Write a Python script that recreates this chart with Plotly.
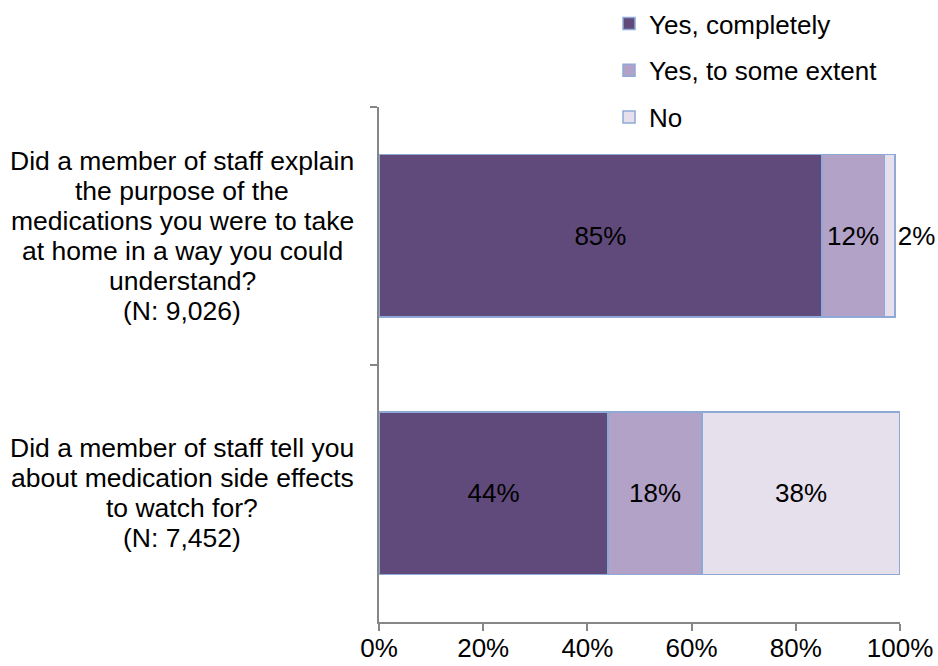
import plotly.graph_objects as go

# Survey questions (one list of text lines per question, top to bottom)
question_keys = ["q_explain", "q_side_effects"]
question_lines = [
    ["Did a member of staff explain",
     "the purpose of the",
     "medications you were to take",
     "at home in a way you could",
     "understand?",
     "(N: 9,026)"],
    ["Did a member of staff tell you",
     "about medication side effects",
     "to watch for?",
     "(N: 7,452)"],
]

# Response shares (%) per question
series_names = ["Yes, completely", "Yes, to some extent", "No"]
yes_completely = [85, 44]
yes_some_extent = [12, 18]
no_answer = [2, 38]

x_tick_values = [0, 20, 40, 60, 80, 100]
x_tick_labels = ["0%", "20%", "40%", "60%", "80%", "100%"]

colors = ["#604A7B", "#B3A2C7", "#E6E0EC"]
edge = "#8EA9D6"
font_family = "Arial, Liberation Sans, sans-serif"
fs = 26

fig = go.Figure()
series = [yes_completely, yes_some_extent, no_answer]
for i, (name, vals, col) in enumerate(zip(series_names, series, colors)):
    if i == 2:
        positions = ["outside" if v < 5 else "inside" for v in vals]
    else:
        positions = ["inside"] * len(vals)
    fig.add_trace(go.Bar(
        name=name,
        y=question_keys,
        x=vals,
        orientation="h",
        width=0.63,
        marker=dict(color=col, line=dict(color=edge, width=1.5)),
        text=[f"{v}%" for v in vals],
        textposition=positions,
        insidetextanchor="middle",
        textfont=dict(family=font_family, size=fs, color="black"),
        insidetextfont=dict(family=font_family, size=fs, color="black"),
        outsidetextfont=dict(family=font_family, size=fs, color="black"),
        constraintext="none",
        cliponaxis=False,
        legendgroup=name,
        hoverinfo="skip",
    ))

# Multi-line category labels, centred, with tight line spacing
line_gap = 30
annotations = []
for key, lines in zip(question_keys, question_lines):
    n = len(lines)
    for j, line in enumerate(lines):
        annotations.append(dict(
            x=-0.378, xref="paper", y=key, yref="y",
            text=line, showarrow=False,
            xanchor="center", yanchor="middle",
            yshift=((n - 1) / 2 - j) * line_gap,
            font=dict(family=font_family, size=26.5, color="black"),
        ))

fig.update_layout(
    width=938, height=666,
    margin=dict(l=379, r=38, t=107, b=44, autoexpand=False),
    barmode="stack",
    plot_bgcolor="white",
    paper_bgcolor="white",
    font=dict(family=font_family, size=fs, color="black"),
    uniformtext=dict(minsize=fs, mode="show"),
    showlegend=True,
    legend=dict(
        x=0.4415, xanchor="left",
        y=1.2078, yanchor="top",
        traceorder="grouped",
        tracegroupgap=10,
        font=dict(family=font_family, size=fs, color="black"),
        bgcolor="rgba(0,0,0,0)",
    ),
    annotations=annotations,
    xaxis=dict(
        range=[0, 100],
        tickvals=x_tick_values,
        ticktext=x_tick_labels,
        showgrid=False, zeroline=False,
        showline=True, linecolor="#868686", linewidth=1.5,
        ticks="outside", ticklen=7, tickcolor="#868686", tickwidth=1.5,
        ticklabelstandoff=-5,
        tickfont=dict(family=font_family, size=fs, color="black"),
    ),
    yaxis=dict(
        type="category",
        categoryorder="array",
        categoryarray=question_keys,
        autorange="reversed",
        showticklabels=False,
        showgrid=False, zeroline=False,
        showline=True, linecolor="#868686", linewidth=1.5,
        ticks="outside", ticklen=7, tickcolor="#868686", tickwidth=1.5,
        tickson="boundaries",
    ),
)

fig.write_html("out.html")
